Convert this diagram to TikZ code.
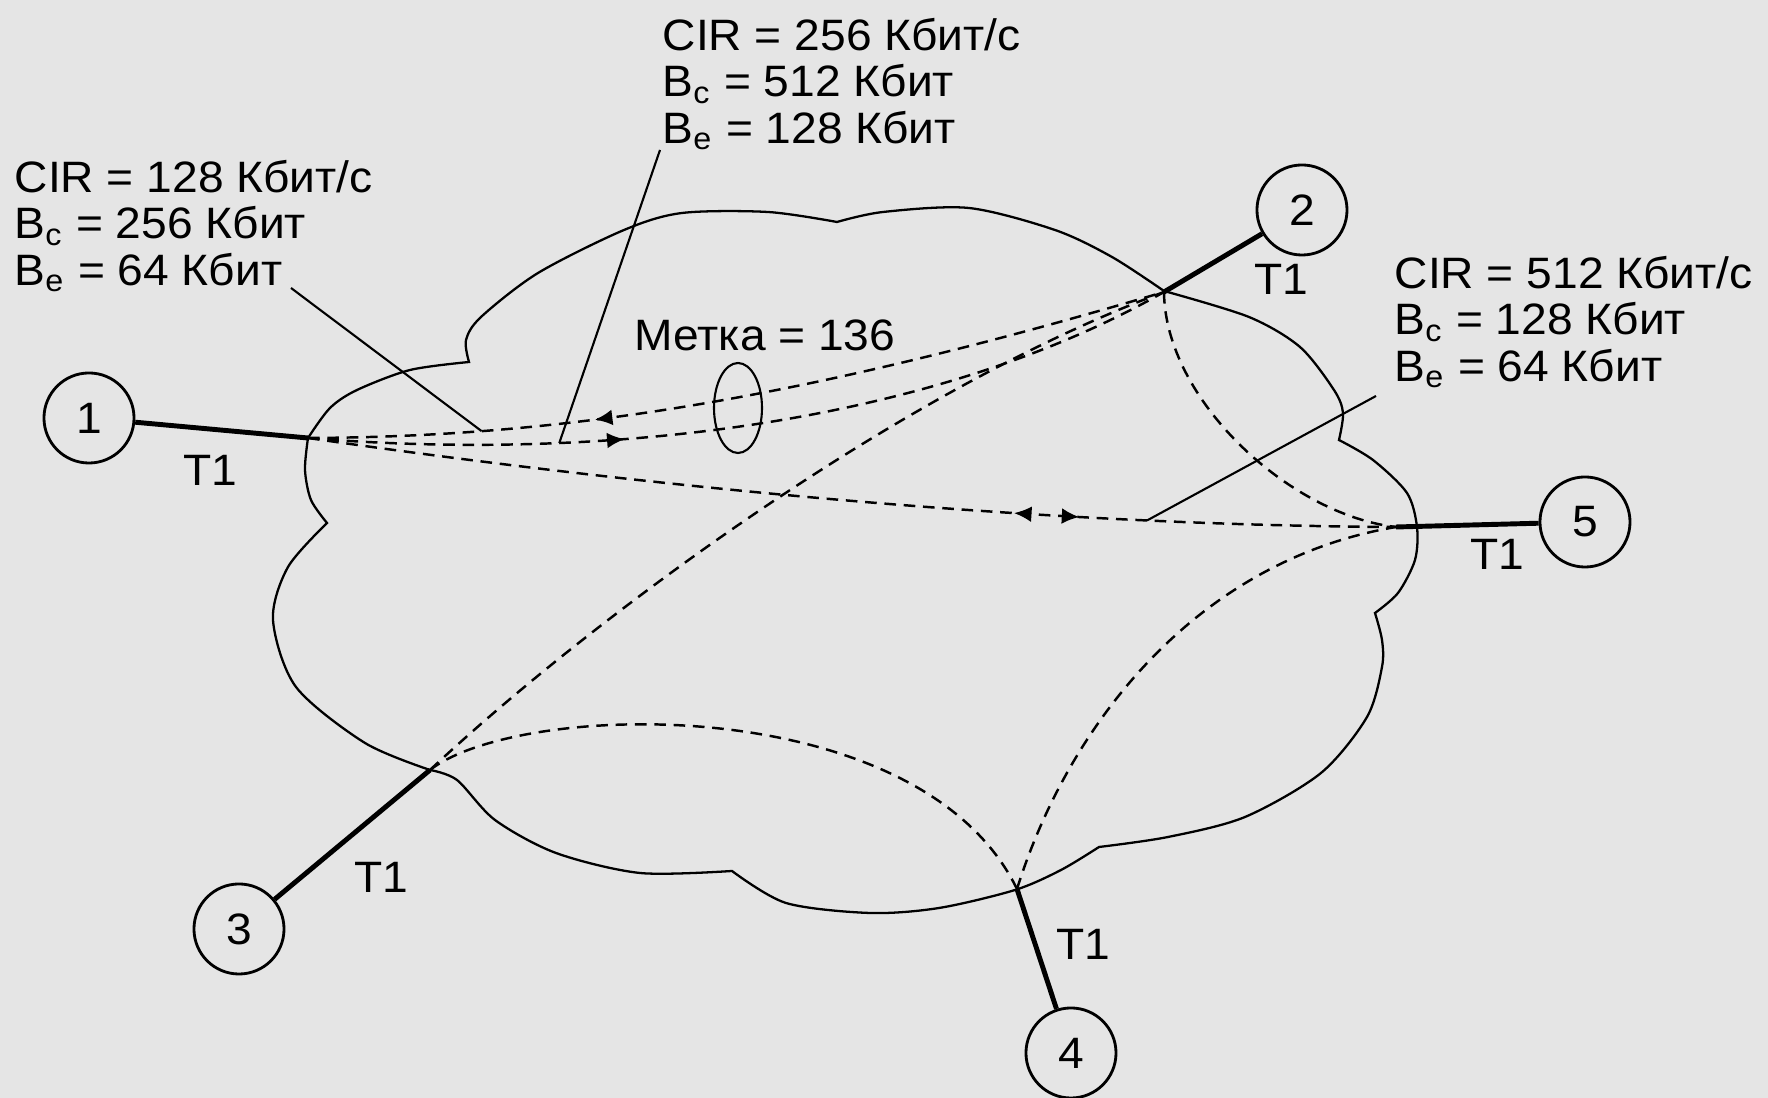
\documentclass[tikz,border=0pt]{standalone}
\usepackage{fontspec}
\setmainfont{Liberation Sans}[FakeStretch=1.05]
\usepackage{tikz}
\usetikzlibrary{decorations.markings, arrows.meta}

\definecolor{paper}{RGB}{229,229,229}

\begin{document}
\begin{tikzpicture}[x=0.01cm, y=-0.01cm,
  site/.style={circle, draw, line width=0.8pt, minimum size=0.9cm, inner sep=0pt, font=\fontsize{12.5}{14}\selectfont},
  trunk/.style={line width=1.4pt},
  vc/.style={line width=0.7pt, dash pattern=on 3.3pt off 2.2pt},
  lead/.style={line width=0.6pt},
  lbl/.style={align=left, inner sep=0pt, anchor=north west, font=\fontsize{12.5}{13.1}\selectfont},
  tlbl/.style={inner sep=0pt, font=\fontsize{12.5}{13.1}\selectfont},
  fwdmark/.style={postaction={decorate, decoration={markings, mark=at position #1 with {\arrow{Latex[length=5pt,width=4.5pt]}}}}},
  bwdmark/.style={postaction={decorate, decoration={markings, mark=at position #1 with {\arrowreversed{Latex[length=5pt,width=4.5pt]}}}}}]

  % Paper
  \fill[paper] (0,0) rectangle (1768,1098);
  \useasboundingbox (0,0) rectangle (1768,1098);

  % Cloud of the frame relay network
  \draw[line width=0.65pt]
    plot[smooth] coordinates {(308,438) (330,408) (357,390) (410,370) (469,362)}
    -- plot[smooth] coordinates {(469,362) (466,340) (481,317) (538,273) (624,230) (682,213) (768,212) (837,222)}
    -- plot[smooth] coordinates {(837,222) (883,212) (969,208) (1055,230) (1112,257) (1164,291)}
    -- plot[smooth] coordinates {(1164,291) (1249,317) (1300,347) (1334,390) (1343,413) (1339,440)}
    -- plot[smooth] coordinates {(1339,440) (1373,460) (1407,493) (1417,527) (1415,560) (1398,593) (1375,613)}
    -- plot[smooth] coordinates {(1375,613) (1382,640) (1382,667) (1367,717) (1321,773) (1245,817) (1168,837) (1099,847)}
    -- plot[smooth] coordinates {(1099,847) (1061,870) (1015,890) (939,908) (870,913) (786,903) (732,871)}
    -- plot[smooth] coordinates {(732,871) (640,873) (556,853) (495,820) (457,780) (430,770)}
    -- plot[smooth] coordinates {(430,770) (365,743) (296,687) (273,620) (288,567) (327,523)}
    -- plot[smooth] coordinates {(327,523) (311,500) (305,470) (308,438)};

  % Access points on the cloud
  \coordinate (p1) at (308,438);
  \coordinate (p2) at (1164,292);
  \coordinate (p3) at (430,770);
  \coordinate (p4) at (1017,889);
  \coordinate (p5) at (1396,527);

  % Sites
  \node[site] (n1) at (89,418) {1};
  \node[site] (n2) at (1302,210) {2};
  \node[site] (n3) at (239,929) {3};
  \node[site] (n4) at (1071,1053) {4};
  \node[site] (n5) at (1585,522) {5};

  % T1 access lines
  \draw[trunk] (n1) -- (p1);
  \draw[trunk] (n2) -- (p2);
  \draw[trunk] (n3) -- (p3);
  \draw[trunk] (n4) -- (p4);
  \draw[trunk] (n5) -- (p5);
  \node[tlbl] (tl1) at (210,470) {T1};
  \node[tlbl] (tl2) at (1281,279) {T1};
  \node[tlbl] (tl3) at (381,877) {T1};
  \node[tlbl] (tl4) at (1083,944) {T1};
  \node[tlbl] (tl5) at (1497,554) {T1};

  % Virtual circuits
  \draw[vc, bwdmark=0.33] (p1) .. controls (560,437) and (800,400) .. (p2) coordinate[pos=0.23] (tapA);
  \draw[vc, fwdmark=0.36] (p1) .. controls (600,462) and (930,425) .. (p2) coordinate[pos=0.28] (tapB);
  \draw[vc, bwdmark=0.65, fwdmark=0.71] (p1) .. controls (600,480) and (1000,525) .. (p5) coordinate[pos=0.79] (tapC);
  \draw[vc] (p3) .. controls (590,620) and (900,390) .. (p2);
  \draw[vc] (p3) .. controls (520,700) and (920,690) .. (p4);
  \draw[vc] (p2) .. controls (1165,400) and (1290,515) .. (p5);
  \draw[vc] (p4) .. controls (1070,720) and (1200,560) .. (p5);

  % Label of the DLCI pair
  \draw[lead] (738,408) ellipse (24 and 45);
  \node[tlbl] (dlci) at (765,335) {Метка = 136};

  % Contract parameters
  \node[lbl] (lblL) at (14,160) {CIR = 128 Кбит/с\\B\textsubscript{c} = 256 Кбит\\B\textsubscript{e} = 64 Кбит};
  \node[lbl] (lblT) at (662,18) {CIR = 256 Кбит/с\\B\textsubscript{c} = 512 Кбит\\B\textsubscript{e} = 128 Кбит};
  \node[lbl] (lblR) at (1394,256) {CIR = 512 Кбит/с\\B\textsubscript{c} = 128 Кбит\\B\textsubscript{e} = 64 Кбит};
  \coordinate (ldL) at (291,288);
  \coordinate (ldT) at (660,150);
  \coordinate (ldR) at (1376,396);
  \draw[lead] (ldL) -- (tapA);
  \draw[lead] (ldT) -- (tapB);
  \draw[lead] (ldR) -- (tapC);
\end{tikzpicture}
\end{document}
